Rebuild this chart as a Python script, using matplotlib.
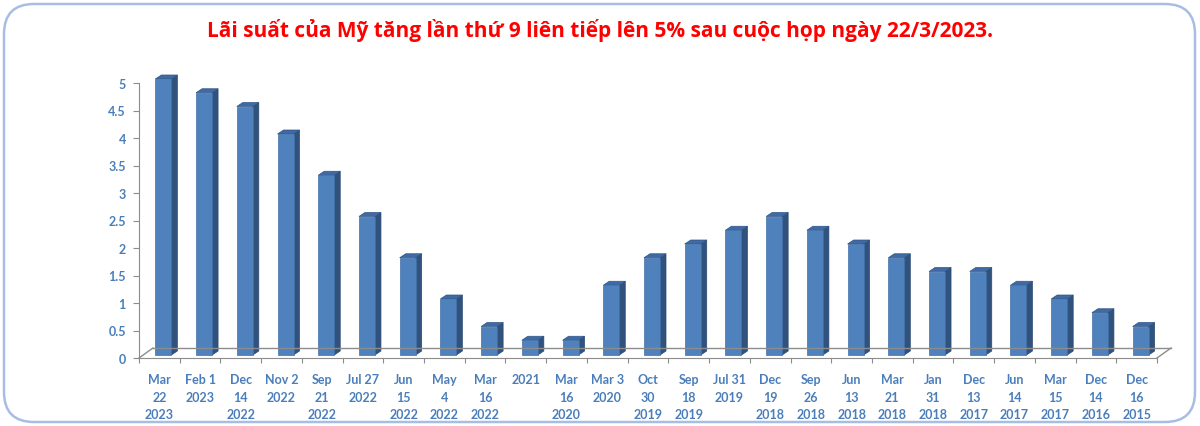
import matplotlib

matplotlib.use("Agg")
import matplotlib.pyplot as plt
from matplotlib.patches import Polygon, FancyBboxPatch
from matplotlib.lines import Line2D

# data (Fed funds upper bound after each meeting)
dates = [
    "Mar\n22\n2023", "Feb 1\n2023", "Dec\n14\n2022", "Nov 2\n2022",
    "Sep\n21\n2022", "Jul 27\n2022", "Jun\n15\n2022", "May\n4\n2022",
    "Mar\n16\n2022", "2021", "Mar\n16\n2020", "Mar 3\n2020",
    "Oct\n30\n2019", "Sep\n18\n2019", "Jul 31\n2019", "Dec\n19\n2018",
    "Sep\n26\n2018", "Jun\n13\n2018", "Mar\n21\n2018", "Jan\n31\n2018",
    "Dec\n13\n2017", "Jun\n14\n2017", "Mar\n15\n2017", "Dec\n14\n2016",
    "Dec\n16\n2015",
]
rates = [
    5, 4.75, 4.5, 4, 3.25, 2.5, 1.75, 1, 0.5, 0.25, 0.25, 1.25, 1.75,
    2, 2.25, 2.5, 2.25, 2, 1.75, 1.5, 1.5, 1.25, 1, 0.75, 0.5,
]
yticks = [0, 0.5, 1, 1.5, 2, 2.5, 3, 3.5, 4, 4.5, 5]
ytick_labels = ["0", "0.5", "1", "1.5", "2", "2.5", "3", "3.5", "4", "4.5", "5"]
title = "Lãi suất của Mỹ tăng lần thứ 9 liên tiếp lên 5% sau cuộc họp ngày 22/3/2023."

W, H = 1200, 427
fig = plt.figure(figsize=(W / 100, H / 100), dpi=100)
fig.patch.set_facecolor("white")

# rounded chart frame
frame = FancyBboxPatch((4 / W, 4 / H), 1191 / W, 418 / H,
                       boxstyle="round,pad=0,rounding_size=0.025",
                       transform=fig.transFigure, facecolor="white",
                       edgecolor="#a9bde4", linewidth=1.8, mutation_aspect=W / H,
                       zorder=-5)
fig.patches.append(frame)

ax_l, ax_b, ax_w, ax_h = 139, 68, 1018, 297
ax = fig.add_axes([ax_l / W, ax_b / H, ax_w / W, ax_h / H])
ax.set_facecolor("none")
n = len(rates)
ax.set_xlim(0, n)
ax.set_ylim(0, 5.4)
px_x = n / ax_w          # data units per pixel
px_y = 5.4 / ax_h

# floor (3d depth)
fdx, fdy = 14 * px_x, 10 * px_y
grey = "#8c8c8c"
for xs, ys in [([0, fdx], [0, fdy]), ([fdx, n + fdx], [fdy, fdy]), ([n, n + fdx], [0, fdy])]:
    ax.add_line(Line2D(xs, ys, color=grey, lw=1.0, clip_on=False))

# 3d-ish columns
bw = 16 * px_x
sdx, sdy = 6 * px_x, 4 * px_y
shift = 4 * px_x
lift = 3 * px_y
for i, v in enumerate(rates):
    x0 = i + 0.5 - bw / 2 + shift
    x1 = x0 + bw
    y0, y1 = lift, v + 4 * px_y
    ax.add_patch(Polygon([(x1, y0), (x1 + sdx, y0 + sdy), (x1 + sdx, y1 + sdy), (x1, y1)],
                         closed=True, facecolor="#30527d", edgecolor="#2a4a73", lw=0.5,
                         clip_on=False))
    ax.add_patch(Polygon([(x0, y1), (x0 + sdx, y1 + sdy), (x1 + sdx, y1 + sdy), (x1, y1)],
                         closed=True, facecolor="#3f6aa3", edgecolor="#2f5587", lw=0.5,
                         clip_on=False))
    ax.add_patch(Polygon([(x0, y0), (x1, y0), (x1, y1), (x0, y1)], closed=True,
                         facecolor="#4f81bd", edgecolor="#416fa8", lw=0.5, clip_on=False))

for s in ["top", "right"]:
    ax.spines[s].set_visible(False)
ax.spines["left"].set_bounds(0, 5)
ax.spines["left"].set_color(grey)
ax.spines["bottom"].set_color(grey)

lab_color = "#4a7ebb"
ax.set_yticks(yticks)
ax.set_yticklabels(ytick_labels)
ax.tick_params(axis="y", length=4.5, color=grey, pad=5, labelsize=9,
               labelcolor=lab_color)
ax.set_xticks(range(n + 1))
ax.set_xticklabels([])
ax.tick_params(axis="x", which="major", length=3.5, color=grey)
ax.set_xticks([i + 0.5 for i in range(n)], minor=True)
ax.set_xticklabels(dates, minor=True)
ax.tick_params(axis="x", which="minor", length=0, pad=11, labelsize=9,
               labelcolor=lab_color)
for t in ax.get_xticklabels(minor=True) + ax.get_yticklabels():
    t.set_fontfamily(["Lato", "DejaVu Sans"])
    t.set_fontweight("bold")
for t in ax.get_xticklabels(minor=True):
    t.set_linespacing(1.55)
    t.set_verticalalignment("top")

fig.text(0.5, 1 - 31 / H, title, ha="center", va="center", color="#ff0000",
         fontsize=15, fontweight="bold", family=["Open Sans", "DejaVu Sans"])

fig.savefig("out.png", dpi=100)
